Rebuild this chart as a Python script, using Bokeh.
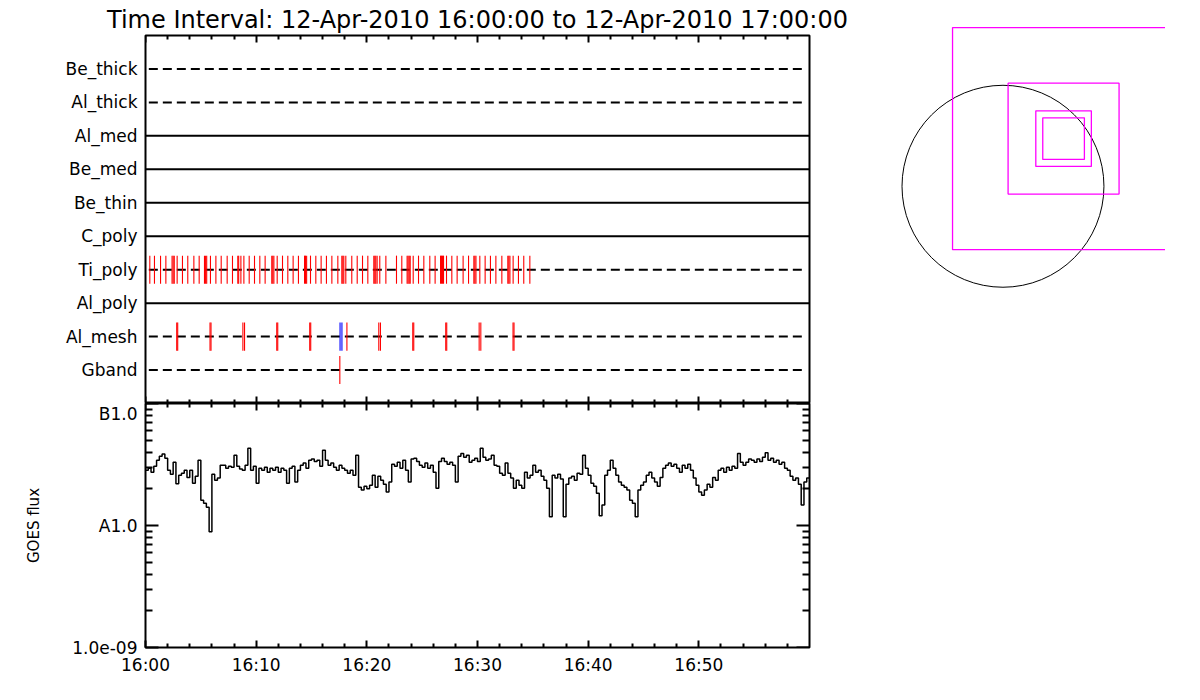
import numpy as np
from bokeh.plotting import figure
from bokeh.layouts import row, column
from bokeh.models import FixedTicker, Range1d, LinearAxis, LogAxis
from bokeh.embed import file_html
from bokeh.resources import INLINE

# ---------------- data ----------------
title_text = "Time Interval: 12-Apr-2010 16:00:00 to 12-Apr-2010 17:00:00"

# XRT filters, bottom row first
filters = ["Gband", "Al_mesh", "Al_poly", "Ti_poly", "C_poly",
           "Be_thin", "Be_med", "Al_med", "Al_thick", "Be_thick"]
dashed_filters = ["Gband", "Al_mesh", "Ti_poly", "Al_thick", "Be_thick"]

# time axis (minutes after 16:00)
time_ticks = [0, 10, 20, 30, 40, 50]
time_labels = ["16:00", "16:10", "16:20", "16:30", "16:40", "16:50"]
time_minor = [2, 4, 6, 8, 12, 14, 16, 18, 22, 24, 26, 28, 32, 34, 36, 38,
              42, 44, 46, 48, 52, 54, 56, 58]

# image times (minutes after 16:00)
ti_poly_times = [0.39, 0.81, 1.36, 1.84, 2.40, 2.50, 2.60, 2.86, 3.34, 3.82,
                 4.37, 4.85, 5.33, 5.43, 5.53, 5.87, 6.36, 6.84, 7.38, 7.86,
                 8.34, 8.42, 8.62, 8.89, 9.37, 9.85, 10.33, 10.81, 11.41, 11.50,
                 11.60, 11.90, 12.38, 12.86, 13.34, 13.82, 14.37, 14.46, 14.56, 14.91,
                 15.39, 15.87, 16.35, 16.84, 17.38, 17.74, 17.83, 17.92, 18.10, 18.64,
                 19.13, 19.61, 20.09, 20.63, 20.72, 20.81, 20.93, 21.17, 21.72, 22.68,
                 23.16, 23.64, 23.73, 23.83, 23.92, 24.19, 24.67, 25.15, 25.69, 26.17,
                 26.66, 26.75, 26.84, 26.93, 27.20, 27.68, 28.16, 28.70, 29.19, 29.67,
                 29.76, 29.86, 30.21, 30.69, 31.17, 31.66, 32.20, 32.74, 32.83, 32.93,
                 33.22, 33.70, 34.18, 34.73]
al_mesh_times = [2.82, 2.91, 5.83, 5.92, 8.80, 8.95, 11.86, 11.95, 14.84, 14.93,
                 18.20, 21.08, 21.23, 24.15, 24.24, 27.13, 27.22, 30.15, 30.30,
                 33.21, 33.30]
al_mesh_blue_times = [17.58, 17.75]
gband_times = [17.56]

# GOES flux, one value per 15 s, in units of 1e-8 W/m^2
goes_step_min = 0.25
goes_flux_e8 = [
    2.84, 2.95, 2.73, 3.06, 3.42, 3.70, 3.85, 3.55, 2.84, 2.63,
    3.30, 2.20, 2.58, 2.68, 2.84, 2.48, 2.84, 2.22, 2.53, 3.42,
    1.61, 1.52, 1.41, 0.89, 2.63, 2.35, 2.45, 3.12, 3.12, 2.95,
    3.06, 3.00, 3.76, 3.06, 2.90, 2.84, 3.12, 4.30, 2.84, 3.06,
    2.22, 2.95, 2.84, 3.00, 2.73, 2.95, 2.84, 3.00, 2.73, 2.95,
    2.84, 2.22, 2.95, 3.06, 2.27, 2.84, 3.12, 3.25, 2.95, 3.42,
    3.50, 3.35, 3.42, 3.06, 4.13, 3.42, 3.12, 3.25, 3.00, 2.84,
    3.12, 2.95, 2.84, 2.68, 2.84, 2.58, 3.76, 2.06, 1.95, 2.10,
    2.00, 2.14, 2.58, 2.06, 2.53, 2.35, 2.18, 1.88, 2.27, 3.18,
    3.06, 3.30, 2.95, 3.42, 2.84, 2.27, 3.50, 3.55, 3.35, 3.12,
    3.00, 3.25, 2.95, 3.12, 2.73, 2.02, 3.35, 3.55, 3.35, 3.18,
    3.30, 3.12, 2.27, 3.70, 3.90, 3.62, 3.76, 3.30, 3.42, 3.55,
    3.35, 4.30, 3.62, 3.42, 3.50, 3.76, 3.12, 3.06, 2.68, 2.58,
    3.25, 2.68, 2.45, 2.02, 2.35, 2.14, 2.02, 2.73, 2.45, 2.58,
    3.12, 2.73, 2.84, 2.53, 2.35, 2.02, 1.18, 2.58, 2.45, 2.63,
    2.40, 1.18, 2.18, 2.45, 2.53, 2.35, 2.68, 2.63, 3.76, 2.95,
    2.58, 2.22, 2.10, 1.84, 1.20, 1.47, 2.58, 2.84, 3.42, 2.95,
    2.58, 2.27, 2.14, 2.06, 1.95, 1.61, 1.52, 1.18, 1.95, 2.14,
    2.27, 2.58, 2.73, 2.45, 2.27, 2.10, 2.48, 2.95, 3.12, 3.25,
    3.06, 3.18, 2.95, 2.73, 3.12, 2.95, 3.18, 2.84, 2.45, 2.14,
    1.88, 1.77, 1.95, 2.18, 2.06, 2.48, 2.35, 2.84, 2.95, 2.73,
    3.00, 2.84, 3.06, 2.95, 3.90, 3.30, 3.12, 3.30, 3.50, 3.42,
    3.30, 3.50, 3.35, 3.62, 3.95, 3.42, 3.55, 3.30, 3.42, 3.18,
    3.30, 2.95, 2.84, 2.53, 2.35, 2.45, 2.18, 1.47, 2.27, 2.45,
]
flux_ticks = [1e-9, 1e-8, 1e-7]
flux_labels = ["1.0e-09", "A1.0", "B1.0"]
flux_minor = [2e-9, 3e-9, 4e-9, 5e-9, 6e-9, 7e-9, 8e-9, 9e-9,
              2e-8, 3e-8, 4e-8, 5e-8, 6e-8, 7e-8, 8e-8, 9e-8]

# field of view map (arcsec)
solar_radius = 958.0
fov_center_x = 575.0
fov_center_y = 452.0
fov_sizes = [2107.0, 1053.0, 527.0, 395.0]

# ---------------- styling ----------------
FONT = "DejaVu Sans"
LBL = "17px"
RED = "#ff0000"
BLUE = "#0000ff"
MAG = "#ff00ff"
HALF = 0.42

def blank_axis(ax):
    # tick marks only: labels are not drawn at all
    ax.major_label_text_color = None
    ax.axis_line_color = None
    ax.major_tick_out = 0
    ax.minor_tick_out = 0
    ax.major_tick_line_color = "black"
    ax.minor_tick_line_color = "black"
    ax.major_tick_line_width = 2
    ax.minor_tick_line_width = 2

def time_axis(fixed=None, labels=False):
    ax = LinearAxis(ticker=FixedTicker(ticks=time_ticks, minor_ticks=time_minor))
    if fixed is not None:
        ax.fixed_location = fixed
    blank_axis(ax)
    ax.major_tick_in = 7
    ax.minor_tick_in = 4
    if labels:
        ax.major_label_overrides = dict(zip(time_ticks, time_labels))
        ax.major_label_text_font_size = LBL
        ax.major_label_text_font = FONT
        ax.major_label_text_color = "black"
        ax.major_label_standoff = 7
    return ax

# ---------------- top panel: filter timeline ----------------
top = figure(width=880, height=403, x_range=Range1d(0, 60), y_range=Range1d(0, 11),
             output_backend="svg", toolbar_location=None,
             x_axis_location=None, y_axis_location=None,
             min_border_left=145, min_border_right=71, min_border_top=35, min_border_bottom=0)
top.grid.visible = False
top.outline_line_color = "black"
top.outline_line_width = 2
top.outline_line_alpha = 1
top.title.text = title_text
top.title.align = "center"
top.title.text_font = FONT
top.title.text_font_size = "24px"
top.title.text_font_style = "normal"
top.title.text_color = "black"
top.title.standoff = 4
top.title.offset = 0

rows = list(range(1, len(filters) + 1))
solid_rows = [r for r, f in zip(rows, filters) if f not in dashed_filters]
dash_rows = [r for r, f in zip(rows, filters) if f in dashed_filters]
top.segment(x0=[0] * len(solid_rows), x1=[60] * len(solid_rows), y0=solid_rows, y1=solid_rows,
            line_color="black", line_width=2)
top.segment(x0=[0.3] * len(dash_rows), x1=[59.7] * len(dash_rows), y0=dash_rows, y1=dash_rows,
            line_color="black", line_width=2, line_dash="9 5")

def marks(fig, times, fname, color):
    r = filters.index(fname) + 1
    fig.segment(x0=times, x1=times, y0=[r - HALF] * len(times), y1=[r + HALF] * len(times),
                line_color=color, line_width=1.1)

marks(top, ti_poly_times, "Ti_poly", RED)
marks(top, al_mesh_times, "Al_mesh", RED)
marks(top, al_mesh_blue_times, "Al_mesh", BLUE)
marks(top, gband_times, "Gband", RED)

yax = LinearAxis(ticker=FixedTicker(ticks=rows, minor_ticks=[]))
yax.major_label_overrides = dict(zip(rows, filters))
yax.major_tick_in = 0
yax.major_tick_out = 0
yax.minor_tick_in = 0
yax.minor_tick_out = 0
yax.axis_line_color = None
yax.major_label_text_font = FONT
yax.major_label_text_font_size = LBL
yax.major_label_text_color = "black"
yax.major_label_standoff = 8
top.add_layout(yax, "left")
top.add_layout(time_axis(fixed=11), "above")
top.add_layout(time_axis(fixed=0), "below")

# ---------------- bottom panel: GOES flux ----------------
goes_t = [i * goes_step_min for i in range(len(goes_flux_e8))] + [60.0]
goes_f = [v * 1e-8 for v in goes_flux_e8] + [goes_flux_e8[-1] * 1e-8]

bot = figure(width=880, height=277, x_range=top.x_range, y_range=Range1d(1e-9, 1e-7),
             y_axis_type="log", output_backend="svg", toolbar_location=None,
             x_axis_location=None, y_axis_location=None,
             min_border_left=145, min_border_right=71, min_border_top=0, min_border_bottom=33)
bot.grid.visible = False
bot.outline_line_color = "black"
bot.outline_line_width = 2
bot.outline_line_alpha = 1
bot.step(goes_t, goes_f, mode="after", line_color="black", line_width=1.5)

fax = LogAxis(ticker=FixedTicker(ticks=flux_ticks, minor_ticks=flux_minor))
blank_axis(fax)
fax.major_tick_in = 13
fax.minor_tick_in = 7
fax.major_label_overrides = dict(zip(flux_ticks, flux_labels))
fax.major_label_text_font = FONT
fax.major_label_text_font_size = LBL
fax.major_label_text_color = "black"
fax.major_label_standoff = 8
fax.axis_label = "GOES flux"
fax.axis_label_text_font = FONT
fax.axis_label_text_font_size = "15px"
fax.axis_label_text_font_style = "normal"
fax.axis_label_text_color = "black"
fax.axis_label_standoff = 26
bot.add_layout(fax, "left")

fax2 = LogAxis(ticker=FixedTicker(ticks=flux_ticks, minor_ticks=flux_minor), fixed_location=60)
blank_axis(fax2)
fax2.major_tick_in = 13
fax2.minor_tick_in = 7
bot.add_layout(fax2, "right")

bot.add_layout(time_axis(fixed=1e-7), "above")
bot.add_layout(time_axis(labels=True), "below")

# ---------------- right panel: field of view ----------------
fov = figure(width=285, height=300, x_range=Range1d(-1162, 1542), y_range=Range1d(-1084, 1573),
             output_backend="svg", toolbar_location=None,
             x_axis_location=None, y_axis_location=None,
             min_border_left=0, min_border_right=0, min_border_top=20, min_border_bottom=0)
fov.grid.visible = False
fov.outline_line_color = None
fov.circle(x=[0], y=[0], radius=solar_radius, fill_color=None, line_color="black", line_width=1)
fov.rect(x=[fov_center_x] * len(fov_sizes), y=[fov_center_y] * len(fov_sizes),
         width=fov_sizes, height=fov_sizes, fill_color=None, line_color=MAG, line_width=1.3)

layout = row(column(top, bot, spacing=0), fov, spacing=0)
open("out.html", "w").write(file_html(layout, INLINE))
